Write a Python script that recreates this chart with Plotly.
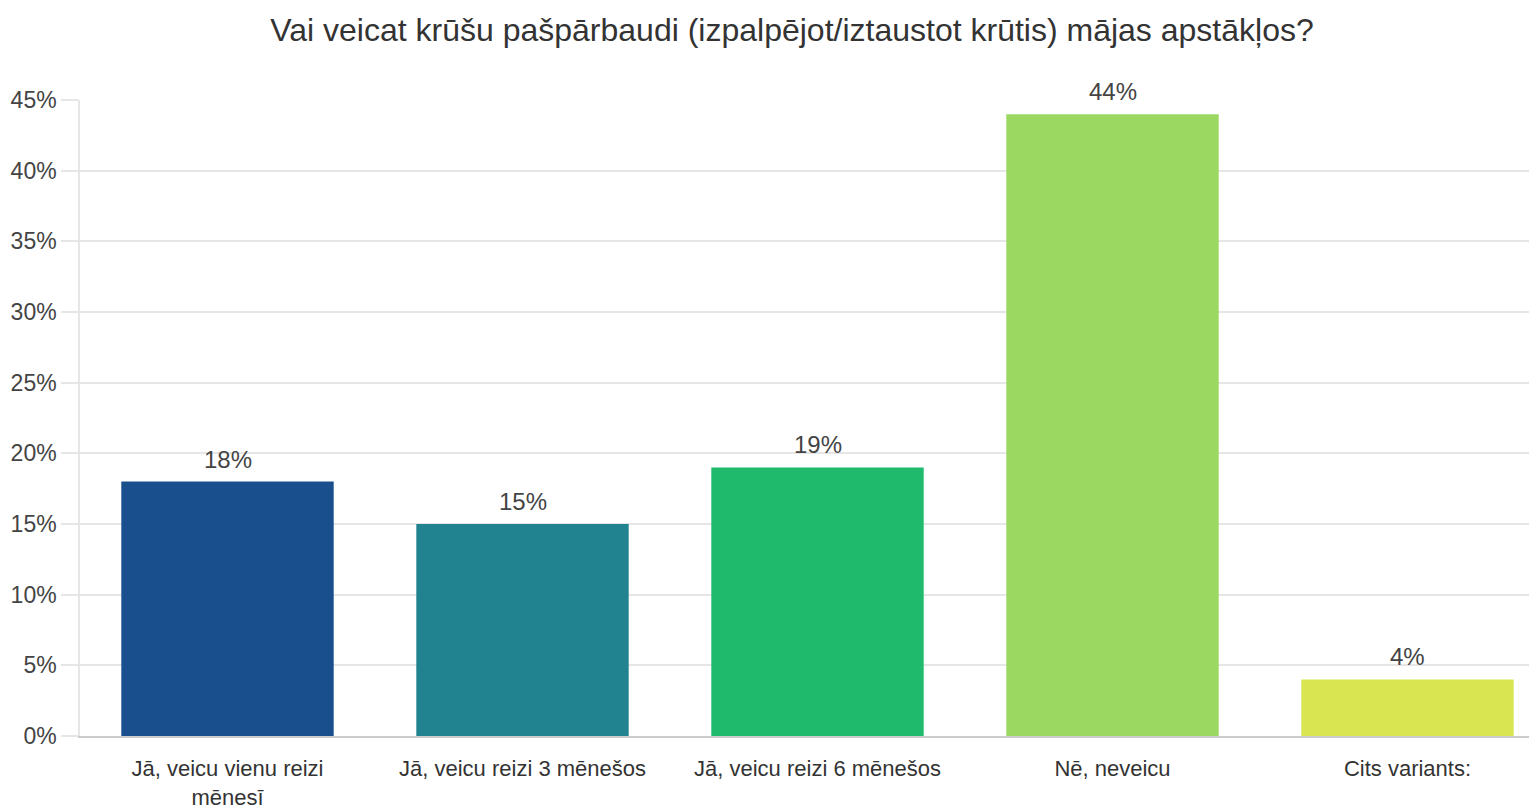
import plotly.graph_objects as go

categories = [
    "Jā, veicu vienu reizi<br>mēnesī",
    "Jā, veicu reizi 3 mēnešos",
    "Jā, veicu reizi 6 mēnešos",
    "Nē, neveicu",
    "Cits variants:",
]
values = [18, 15, 19, 44, 4]
bar_colors = ["#1a4f8d", "#21838f", "#1fba6c", "#9ad862", "#d9e652"]
y_ticks = [0, 5, 10, 15, 20, 25, 30, 35, 40, 45]
y_tick_labels = [f"{v}%" for v in y_ticks]
title_text = "Vai veicat krūšu pašpārbaudi (izpalpējot/iztaustot krūtis) mājas apstākļos?"

FONT = "Liberation Sans, Arial, sans-serif"
# page body has an 8px default margin; the plot area runs a little past the right window edge
W, H = 1547, 803

fig = go.Figure(
    go.Bar(
        x=categories,
        y=values,
        marker=dict(color=bar_colors, line=dict(width=0)),
        hoverinfo="skip",
    )
)

for c, v in zip(categories, values):
    fig.add_annotation(
        x=c, y=v, text=f"{v}%", showarrow=False,
        yanchor="bottom", yshift=7,
        font=dict(size=24, color="#444444", family=FONT),
    )

fig.update_layout(
    width=W,
    height=H,
    paper_bgcolor="white",
    plot_bgcolor="white",
    margin=dict(l=72, r=0, t=92, b=75, autoexpand=False),
    bargap=0.28,
    showlegend=False,
    font=dict(family=FONT, size=22, color="#333333"),
    title=dict(
        text=title_text,
        x=784 / W,
        xanchor="center",
        y=1 - 22 / H,
        yanchor="middle",
        font=dict(size=32, color="#333333"),
    ),
)

fig.update_yaxes(
    range=[0, 45],
    tickvals=y_ticks,
    ticktext=y_tick_labels,
    showgrid=True,
    gridcolor="#e6e6e6",
    gridwidth=1.5,
    zeroline=False,
    showline=True,
    linecolor="#e6e6e6",
    linewidth=1.5,
    ticks="outside",
    ticklen=17,
    tickcolor="#e6e6e6",
    tickwidth=1.5,
    tickfont=dict(size=23, color="#444444"),
    automargin=False,
)

fig.update_xaxes(
    showgrid=False,
    showline=True,
    linecolor="#cccccc",
    linewidth=2,
    ticks="outside",
    ticklen=12,
    tickcolor="rgba(0,0,0,0)",
    tickfont=dict(size=22, color="#333333"),
    automargin=False,
)

fig.write_html("out.html")
